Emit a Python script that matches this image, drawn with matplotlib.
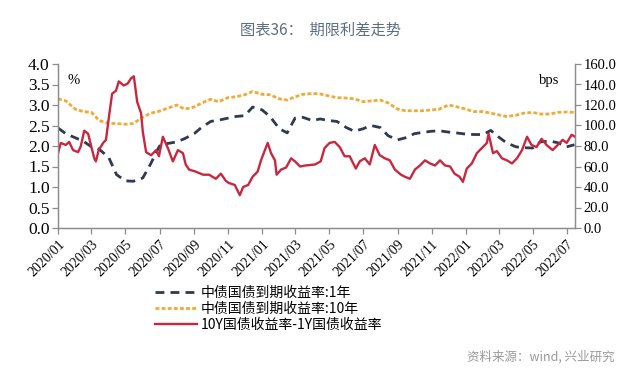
import numpy as np
import pandas as pd
import matplotlib
matplotlib.use('Agg')
from matplotlib import pyplot as plt

plt.rcParams['font.family'] = ['Noto Sans CJK SC', 'DejaVu Sans']

# half-month dates for the two yield curves
half_dates = pd.date_range('2020-01-01', '2022-07-15', freq='SMS')

# 中债国债到期收益率:1年 (%)
y1 = [2.44, 2.30, 2.20, 2.12, 1.98, 1.92, 1.72, 1.30, 1.15, 1.14, 1.22, 1.56,
      2.00, 2.06, 2.10, 2.18, 2.30, 2.46, 2.60, 2.63, 2.68, 2.72, 2.74, 2.95,
      2.88, 2.72, 2.42, 2.32, 2.68, 2.70, 2.62, 2.66, 2.62, 2.60, 2.45, 2.36,
      2.42, 2.50, 2.45, 2.25, 2.15, 2.20, 2.30, 2.33, 2.36, 2.37, 2.34, 2.32,
      2.29, 2.28, 2.28, 2.38, 2.22, 2.08, 1.98, 1.96, 1.95, 2.10, 2.12, 2.08,
      1.98, 2.03]

# 中债国债到期收益率:10年 (%)
y10 = [3.15, 3.10, 2.90, 2.84, 2.82, 2.62, 2.55, 2.55, 2.53, 2.55, 2.70, 2.80,
       2.85, 2.92, 3.00, 2.90, 2.95, 3.05, 3.14, 3.08, 3.18, 3.20, 3.25, 3.33,
       3.26, 3.25, 3.15, 3.12, 3.20, 3.26, 3.28, 3.27, 3.22, 3.18, 3.17, 3.15,
       3.08, 3.10, 3.12, 3.05, 2.90, 2.86, 2.86, 2.86, 2.88, 2.90, 3.00, 2.96,
       2.90, 2.84, 2.84, 2.80, 2.76, 2.72, 2.75, 2.80, 2.82, 2.78, 2.78, 2.82,
       2.83, 2.82]

# 10Y-1Y spread (bps)
spread_dates = pd.to_datetime([
    '2020-01-01', '2020-01-06', '2020-01-15', '2020-01-21', '2020-01-28', '2020-02-06',
    '2020-02-11', '2020-02-17', '2020-02-24', '2020-02-29', '2020-03-06', '2020-03-09',
    '2020-03-14', '2020-03-22', '2020-03-27', '2020-04-01', '2020-04-07', '2020-04-14',
    '2020-04-19', '2020-04-28', '2020-05-05', '2020-05-11', '2020-05-16', '2020-05-22',
    '2020-05-29', '2020-06-01', '2020-06-07', '2020-06-16', '2020-06-25', '2020-06-30',
    '2020-07-07', '2020-07-16', '2020-07-25', '2020-08-03', '2020-08-12', '2020-08-17',
    '2020-08-23', '2020-09-04', '2020-09-17', '2020-09-28', '2020-10-10', '2020-10-19',
    '2020-10-28', '2020-11-02', '2020-11-13', '2020-11-22', '2020-11-28', '2020-12-07',
    '2020-12-15', '2020-12-24', '2020-12-30', '2021-01-06', '2021-01-11', '2021-01-17',
    '2021-01-24', '2021-01-27', '2021-02-04', '2021-02-13', '2021-02-22', '2021-03-01',
    '2021-03-10', '2021-03-20', '2021-04-06', '2021-04-16', '2021-04-23', '2021-05-02',
    '2021-05-11', '2021-05-20', '2021-05-29', '2021-06-07', '2021-06-18', '2021-06-25',
    '2021-07-04', '2021-07-13', '2021-07-22', '2021-07-31', '2021-08-09', '2021-08-18',
    '2021-08-27', '2021-09-07', '2021-09-14', '2021-09-23', '2021-10-02', '2021-10-11',
    '2021-10-20', '2021-10-29', '2021-11-07', '2021-11-16', '2021-11-25', '2021-12-04',
    '2021-12-12', '2021-12-21', '2021-12-27', '2022-01-03', '2022-01-12', '2022-01-21',
    '2022-01-30', '2022-02-08', '2022-02-11', '2022-02-19', '2022-02-26', '2022-03-07',
    '2022-03-16', '2022-03-25', '2022-04-03', '2022-04-12', '2022-04-21', '2022-04-29',
    '2022-05-08', '2022-05-17', '2022-05-26', '2022-06-06', '2022-06-15', '2022-06-24',
    '2022-07-01', '2022-07-10', '2022-07-16'])
spread = [73, 83, 81, 84, 76, 74, 80, 95, 92, 81, 68, 65,
          76, 83, 86, 107, 131, 134, 143, 139, 141, 146, 148, 123,
          112, 94, 74, 71, 76, 70, 89, 78, 65, 76, 73, 62,
          57, 55, 52, 52, 48, 53, 46, 44, 42, 32, 40, 42,
          50, 55, 66, 76, 83, 73, 66, 52, 57, 59, 68, 65,
          60, 61, 62, 65, 78, 83, 84, 79, 70, 70, 58, 65,
          68, 62, 81, 71, 68, 66, 57, 52, 50, 48, 57, 61,
          66, 63, 61, 66, 61, 60, 53, 50, 45, 58, 63, 73,
          78, 83, 92, 73, 75, 68, 66, 63, 68, 76, 89, 81,
          79, 87, 81, 76, 81, 86, 83, 91, 89]

tick_dates = pd.date_range('2020-01-01', '2022-07-01', freq='2MS')

c_1y = '#2E3A50'
c_10y = '#F2A935'
c_sp = '#C8283F'
axis_grey = '#8C8C8C'
serif = 'Liberation Serif'

fig = plt.figure(figsize=(6.4, 3.84), dpi=100)
ax = fig.add_axes([58 / 640, 1 - 228 / 384, 517 / 640, 164 / 384])
ax2 = ax.twinx()

l1, = ax.plot(half_dates, y1, color=c_1y, lw=2.0, linestyle=(0, (3.2, 2.2)),
              label='中债国债到期收益率:1年')
l2, = ax.plot(half_dates, y10, color=c_10y, lw=2.0, linestyle=(0, (1.4, 0.8)),
              label='中债国债到期收益率:10年')
l3, = ax2.plot(spread_dates, spread, color=c_sp, lw=1.7,
               label='10Y国债收益率-1Y国债收益率')

ax.set_xlim(pd.Timestamp('2020-01-01'), pd.Timestamp('2022-07-16'))
ax.set_ylim(0, 4)
ax2.set_ylim(0, 160)
ax.set_yticks(np.arange(0, 4.01, 0.5))
ax2.set_yticks(np.arange(0, 161, 20))
ax.set_yticklabels(['%.1f' % v for v in np.arange(0, 4.01, 0.5)], family=serif, fontsize=12.5)
ax2.set_yticklabels(['%.1f' % v for v in np.arange(0, 161, 20)], family=serif, fontsize=10.5)
ax.set_xticks(tick_dates)
ax.set_xticklabels([d.strftime('%Y/%m') for d in tick_dates], family=serif, fontsize=10,
                   rotation=45, ha='right', rotation_mode='anchor')

for a in (ax, ax2):
    a.spines['top'].set_visible(False)
    for s in ('left', 'right', 'bottom'):
        a.spines[s].set_color(axis_grey)
        a.spines[s].set_linewidth(0.9)
    a.tick_params(colors=axis_grey, labelcolor='black', length=4, width=0.9, pad=2)
ax.tick_params(axis='x', pad=3)

ax.text(0.018, 0.94, '%', transform=ax.transAxes, family=serif, fontsize=10.5, va='top')
ax2.text(0.93, 0.94, 'bps', transform=ax2.transAxes, family=serif, fontsize=10.5, va='top')

fig.text(0.5, 1 - 30 / 384, '图表36：  期限利差走势', ha='center', va='center',
         fontsize=11, color='#5E6E80')

fig.legend(handles=[l1, l2, l3], loc='upper left', bbox_to_anchor=(148 / 640, 1 - 279 / 384),
           frameon=False, fontsize=10, handlelength=3.0, handletextpad=0.3,
           labelspacing=0.15, borderpad=0)

fig.text(615 / 640, 1 - 357 / 384, '资料来源：wind, 兴业研究', ha='right', va='center',
         fontsize=9, color='#9A9A9A')

fig.savefig('out.png', dpi=100)
